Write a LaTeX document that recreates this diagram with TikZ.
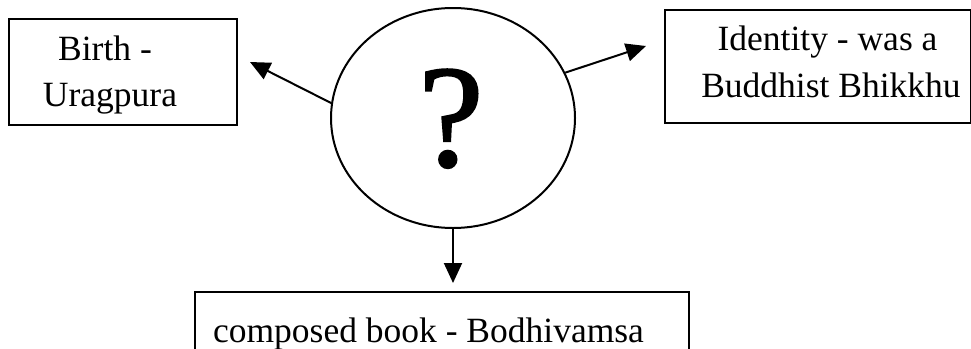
\documentclass[tikz,border=0pt]{standalone}
\usepackage{fontspec}
\setmainfont{Liberation Serif}
\newfontfamily\qfont[FakeBold=1.5]{Liberation Serif}
\usetikzlibrary{shapes.geometric,arrows.meta}
\begin{document}
\begin{tikzpicture}[x=1pt,y=-1pt,
  box/.style={draw, line width=1.5pt, rectangle, inner sep=0pt, anchor=north west},
  txt/.style={font=\fontsize{35.5}{46}\selectfont, anchor=base, inner sep=0pt},
  conn/.style={line width=2pt, -{Triangle[length=20pt,width=18pt]}}]
\clip (0,0) rectangle (971,348);
\fill[white] (0,0) rectangle (971,348);
% boxes
\node[box, minimum width=228pt, minimum height=106pt] (lbox) at (8,18) {};
\node[box, minimum width=306pt, minimum height=113pt] (rbox) at (664,9) {};
\node[box, minimum width=494pt, minimum height=100pt] (bbox) at (194,291) {};
% central ellipse
\node[draw, ellipse, line width=2pt, minimum width=244pt, minimum height=220pt, inner sep=0pt] (ell) at (453,118) {};
\node[font=\qfont\fontsize{146}{146}\selectfont, anchor=base, inner sep=0pt] (q) at (451,166) {?};
% texts
\node[txt] (b1) at (105,60) {Birth -};
\node[txt] (b2) at (110,106) {Uragpura};
\node[txt] (i1) at (827.5,50) {Identity - was a};
\node[txt] (i2) at (831,97) {Buddhist Bhikkhu};
\node[txt] (c1) at (428.5,342) {composed book - Bodhivamsa};
% connectors
\coordinate (ltip) at (250,62);
\coordinate (rtip) at (646,46);
\coordinate (dtip) at (453,283);
\draw[conn] (ell.173) -- (ltip);
\draw[conn] (ell.22) -- (rtip);
\draw[conn] (ell.south) -- (dtip);
\end{tikzpicture}
\end{document}
